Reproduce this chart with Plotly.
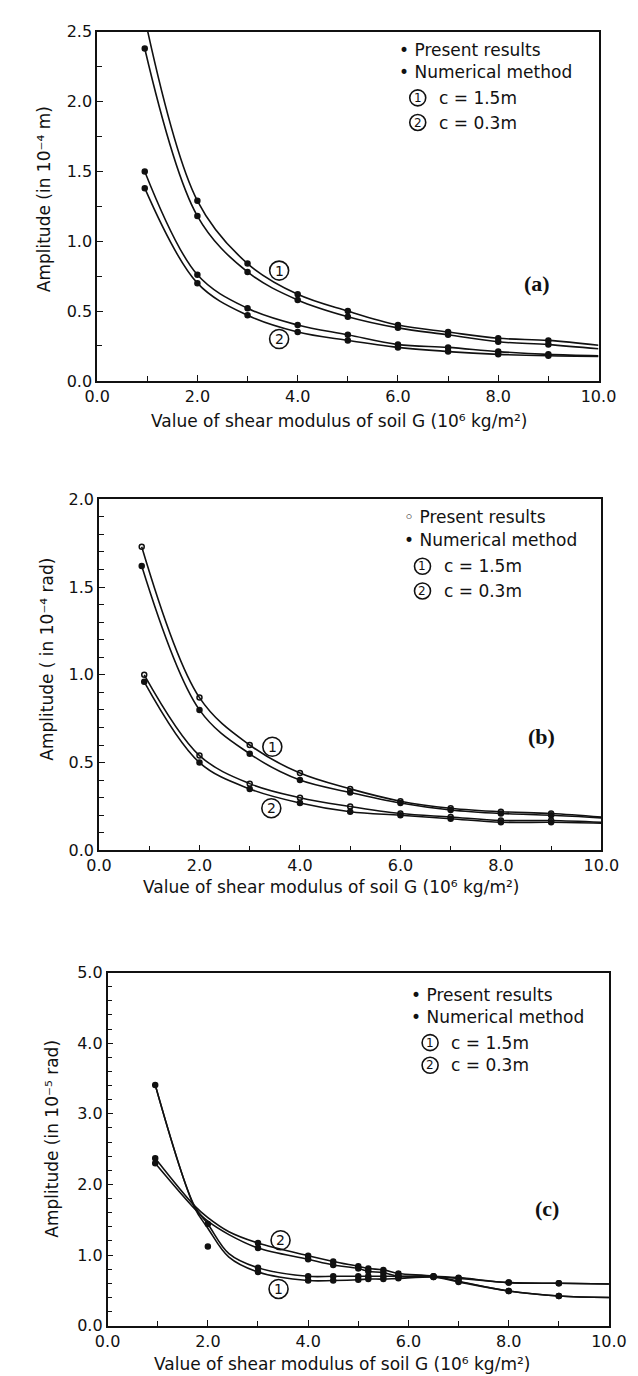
import plotly.graph_objects as go

W, H = 638, 1376

# ---------------- Panel (a): amplitude (10^-4 m) ----------------
a_x = [0.95, 2, 3, 4, 5, 6, 7, 8, 9, 10]
a_c1_numerical = [2.60, 1.29, 0.84, 0.62, 0.50, 0.40, 0.35, 0.305, 0.29, 0.255]
a_c1_present = [2.38, 1.18, 0.78, 0.58, 0.46, 0.38, 0.33, 0.28, 0.26, 0.23]
a_c2_numerical = [1.50, 0.76, 0.52, 0.40, 0.33, 0.26, 0.24, 0.21, 0.19, 0.18]
a_c2_present = [1.38, 0.70, 0.47, 0.35, 0.29, 0.24, 0.21, 0.19, 0.18, 0.175]

# ---------------- Panel (b): amplitude (10^-4 rad) ----------------
b_x1 = [0.85, 2, 3, 4, 5, 6, 7, 8, 9, 10]
b_x2 = [0.90, 2, 3, 4, 5, 6, 7, 8, 9, 10]
b_c1_present = [1.73, 0.87, 0.60, 0.44, 0.35, 0.28, 0.24, 0.22, 0.21, 0.19]
b_c1_numerical = [1.62, 0.80, 0.55, 0.40, 0.33, 0.27, 0.23, 0.21, 0.20, 0.185]
b_c2_present = [1.00, 0.54, 0.38, 0.30, 0.25, 0.21, 0.19, 0.17, 0.17, 0.16]
b_c2_numerical = [0.96, 0.50, 0.35, 0.27, 0.22, 0.20, 0.18, 0.16, 0.16, 0.155]

# ---------------- Panel (c): amplitude (10^-5 rad) ----------------
c_x_curve = [0.95, 1.73, 2.0, 2.42, 3, 4, 4.5, 5, 5.2, 5.5, 5.8, 6.5, 7, 8, 9, 10]
c_c1_present_curve = [3.41, 1.70, 1.44, 1.02, 0.82, 0.70, 0.70, 0.70, 0.70, 0.70, 0.70, 0.70, 0.68, 0.61, 0.60, 0.59]
c_c1_numerical_curve = [3.41, 1.68, 1.38, 0.97, 0.76, 0.64, 0.64, 0.65, 0.66, 0.66, 0.67, 0.69, 0.67, 0.61, 0.60, 0.59]
c_c2_present_curve = [2.37, 1.70, 1.53, 1.33, 1.17, 0.99, 0.91, 0.84, 0.81, 0.79, 0.74, 0.70, 0.63, 0.49, 0.42, 0.40]
c_c2_numerical_curve = [2.30, 1.66, 1.48, 1.29, 1.10, 0.94, 0.86, 0.81, 0.77, 0.75, 0.70, 0.69, 0.62, 0.49, 0.42, 0.40]

c_x_pts = [0.95, 2, 3, 4, 4.5, 5, 5.2, 5.5, 5.8, 6.5, 7, 8, 9]
c_c1_present_pts = [3.41, 1.44, 0.82, 0.70, 0.70, 0.70, 0.70, 0.70, 0.70, 0.70, 0.68, 0.61, 0.60]
c_c1_numerical_pts = [None, 1.12, 0.76, 0.64, 0.64, 0.65, 0.66, 0.66, 0.67, 0.69, 0.67, 0.61, 0.60]
c_c2_present_pts = [2.37, None, 1.17, 0.99, 0.91, 0.84, 0.81, 0.79, 0.74, 0.70, 0.63, 0.49, 0.42]
c_c2_numerical_pts = [2.30, None, 1.10, 0.94, 0.86, 0.81, 0.77, 0.75, 0.70, 0.69, 0.62, 0.49, 0.42]

x_ticks = [0, 2, 4, 6, 8, 10]
x_title = "Value of shear modulus of soil G (10⁶ kg/m²)"
y_titles = ["Amplitude (in 10⁻⁴ m)",
            "Amplitude ( in 10⁻⁴ rad)",
            "Amplitude (in 10⁻⁵ rad)"]
legend_lines = ["Present results", "Numerical method", "c = 1.5m", "c = 0.3m"]
curve_ids = ["1", "2"]
panel_tags = ["(a)", "(b)", "(c)"]

FONT = "DejaVu Sans, Noto Sans CJK JP"
INK = "#111111"

fig = go.Figure()


def line(x, y, ax):
    fig.add_trace(go.Scatter(x=x, y=y, mode="lines", xaxis="x" + ax, yaxis="y" + ax,
                             line=dict(color=INK, width=1.6, shape="spline", smoothing=1.0),
                             showlegend=False, hoverinfo="skip"))


def pts(x, y, ax, open_=False):
    fig.add_trace(go.Scatter(x=x, y=y, mode="markers", xaxis="x" + ax, yaxis="y" + ax,
                             marker=dict(symbol="circle-open" if open_ else "circle", size=5,
                                         color=INK, line=dict(color=INK, width=1.5)),
                             showlegend=False))


# panel a
for ys in (a_c1_numerical, a_c1_present, a_c2_numerical, a_c2_present):
    line(a_x, ys, "")
    pts(a_x[:-1], ys[:-1], "")
# panel b
line(b_x1, b_c1_present, "2"); pts(b_x1[:-1], b_c1_present[:-1], "2", True)
line(b_x1, b_c1_numerical, "2"); pts(b_x1[:-1], b_c1_numerical[:-1], "2")
line(b_x2, b_c2_present, "2"); pts(b_x2[:-1], b_c2_present[:-1], "2", True)
line(b_x2, b_c2_numerical, "2"); pts(b_x2[:-1], b_c2_numerical[:-1], "2")
# panel c
for ys in (c_c1_present_curve, c_c1_numerical_curve, c_c2_present_curve, c_c2_numerical_curve):
    line(c_x_curve, ys, "3")
for ys in (c_c1_present_pts, c_c1_numerical_pts, c_c2_present_pts, c_c2_numerical_pts):
    pts(c_x_pts, ys, "3")

# plot-area pixel boxes (left, top, right, bottom)
boxes = [(80, 15, 607, 369), (82, 489, 610, 845), (91, 969, 618, 1327)]
y_setups = [(2.5, 0.5, 0.25), (2.0, 0.5, 0.1), (5.0, 1.0, 0.2)]


def xdom(b):
    return [b[0] / W, b[2] / W]


def ydom(b):
    return [1 - b[3] / H, 1 - b[1] / H]


axis_common = dict(showline=True, mirror=True, linecolor=INK, linewidth=1.6,
                   showgrid=False, zeroline=False, ticks="inside", ticklen=6,
                   tickcolor=INK, tickwidth=1.3,
                   tickfont=dict(family=FONT, size=16, color=INK))

layout = dict(width=W, height=H, paper_bgcolor="white", plot_bgcolor="white",
              margin=dict(l=0, r=0, t=0, b=0), showlegend=False)
for i, b in enumerate(boxes):
    s = "" if i == 0 else str(i + 1)
    top, dt, mdt = y_setups[i]
    layout["xaxis" + s] = dict(axis_common, domain=xdom(b), range=[0, 10], tickvals=x_ticks,
                               tickformat=".1f", anchor="y" + s,
                               minor=dict(dtick=1, ticks="inside", ticklen=5, tickcolor=INK))
    layout["yaxis" + s] = dict(axis_common, domain=ydom(b), range=[0, top], dtick=dt,
                               tickformat=".1f", anchor="x" + s,
                               minor=dict(dtick=mdt, ticks="inside", ticklen=5, tickcolor=INK))
fig.update_layout(**layout)

ann = []
shapes = []


def ptxt(x, y, text, size=15, xanchor="left", angle=0, font=FONT, bold=False):
    t = "<b>%s</b>" % text if bold else text
    ann.append(dict(x=x / W, y=1 - y / H, xref="paper", yref="paper", text=t, showarrow=False,
                    xanchor=xanchor, yanchor="middle", textangle=angle,
                    font=dict(family=font, size=size, color=INK)))


def circled(x, y, digit, r, size, xref="paper", yref="paper"):
    # circle outline in pixel size anchored at (x, y)
    shapes.append(dict(type="circle", xref=xref, yref=yref, xsizemode="pixel",
                       ysizemode="pixel", xanchor=x, yanchor=y, x0=-r, x1=r, y0=-r, y1=r,
                       line=dict(color=INK, width=1.6), fillcolor="rgba(0,0,0,0)"))
    ann.append(dict(x=x, y=y, xref=xref, yref=yref, text=digit, showarrow=False,
                    xanchor="center", yanchor="middle",
                    font=dict(family=FONT, size=size, color=INK)))


# axis titles
for (cx, cy) in [(334, 410), (326, 882), (337, 1366)]:
    ptxt(cx, cy, x_title, size=17, xanchor="center")
for (cx, cy), t in zip([(25, 185), (27, 651), (33, 1137)], y_titles):
    ptxt(cx, cy, t, size=17, xanchor="center", angle=-90)

# legends
leg_pos = [(395, [33, 56, 82, 107]), (400, [507, 530, 557, 582]), (408, [992, 1014, 1040, 1063])]
bullets = [["•", "•"], ["◦", "•"], ["•", "•"]]
for i, (lx, ys) in enumerate(leg_pos):
    ptxt(lx, ys[0], bullets[i][0] + " " + legend_lines[0], size=17)
    ptxt(lx, ys[1], bullets[i][1] + " " + legend_lines[1], size=17)
    circled((lx + 22) / W, 1 - ys[2] / H, curve_ids[0], 8, 12)
    circled((lx + 22) / W, 1 - ys[3] / H, curve_ids[1], 8, 12)
    ptxt(lx + 42, ys[2], legend_lines[2], size=17)
    ptxt(lx + 42, ys[3], legend_lines[3], size=17)

# panel tags
for (cx, cy), t in zip([(542, 270), (547, 730), (553, 1208)], panel_tags):
    ptxt(cx, cy, t, size=22, xanchor="center", font="Liberation Serif", bold=True)

# curve labels in data coords
lab = [("", 3.63, 0.79, 0), ("", 3.63, 0.30, 1),
       ("2", 3.45, 0.59, 0), ("2", 3.43, 0.24, 1),
       ("3", 3.41, 0.52, 0), ("3", 3.45, 1.21, 1)]
for ax, x, y, k in lab:
    circled(x, y, curve_ids[k], 9.5, 14, xref="x" + ax, yref="y" + ax)

fig.update_layout(annotations=ann, shapes=shapes)

fig.write_html("out.html")
